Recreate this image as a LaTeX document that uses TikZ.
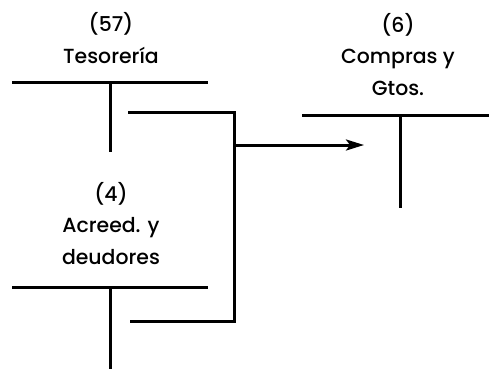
\documentclass[tikz,border=0pt]{standalone}
\usepackage{fontspec}
\setmainfont{Poppins}[UprightFont=* Medium]
\usetikzlibrary{arrows.meta}
\begin{document}
\begin{tikzpicture}[x=1bp,y=-1bp,
  acc/.style={line width=3bp},
  lbl/.style={align=center,font=\fontsize{20.5}{31.5}\selectfont,inner sep=0pt},
  conn/.style={line width=3bp},
  arr/.style={line width=3bp,-{Stealth[length=18bp,width=11bp,inset=4bp]}}]
\useasboundingbox (0,0) rectangle (489,369);
% account 57
\node[lbl,anchor=base] (t57) at (111,63) {(57)\\Tesorería};
\coordinate (a1l) at (12,82); \coordinate (a1r) at (208,82);
\coordinate (a1t) at (110,82); \coordinate (a1b) at (110,152);
\draw[acc] (a1l) -- (a1r); \draw[acc] (a1t) -- (a1b);
% account 4
\node[lbl,anchor=base] (t4) at (111,264) {(4)\\Acreed. y\\deudores};
\coordinate (a2l) at (12,287); \coordinate (a2r) at (208,287);
\coordinate (a2t) at (110,287); \coordinate (a2b) at (110,369);
\draw[acc] (a2l) -- (a2r); \draw[acc] (a2t) -- (a2b);
% account 6
\node[lbl,anchor=base] (t6) at (398,95) {(6)\\Compras y\\Gtos.};
\coordinate (a3l) at (302,115); \coordinate (a3r) at (489,115);
\coordinate (a3t) at (400,115); \coordinate (a3b) at (400,208);
\draw[acc] (a3l) -- (a3r); \draw[acc] (a3t) -- (a3b);
% connectors
\coordinate (c1) at (128,112); \coordinate (c2) at (130,321);
\coordinate (j) at (234,145); \coordinate (e) at (364,145);
\draw[conn] (c1) -| (j) |- (c2);
\draw[arr] (j) -- (e);
\end{tikzpicture}
\end{document}
